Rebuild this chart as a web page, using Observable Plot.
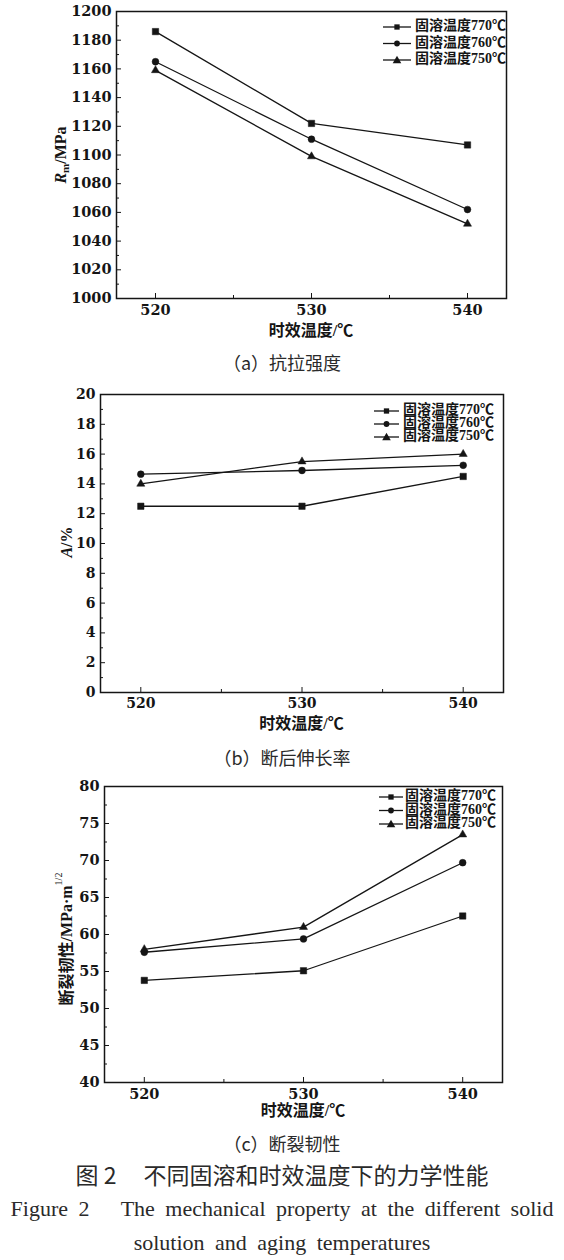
<!DOCTYPE html>
<html><head><meta charset="utf-8">
<script src="https://cdn.jsdelivr.net/npm/d3@7"></script>
<script src="https://cdn.jsdelivr.net/npm/@observablehq/plot@0.6"></script>
<style>
body{margin:0;background:#fff;}
#page{position:relative;width:564px;height:1260px;overflow:hidden;background:#fff;}
.panel{position:absolute;left:0;}
.cap{position:absolute;left:0;width:564px;text-align:center;white-space:nowrap;color:#2a2a2a;}
.cn{font-family:"Noto Sans CJK SC",sans-serif;font-size:18px;line-height:18px;}
.title{font-family:"Noto Sans CJK SC",sans-serif;font-size:23px;line-height:23px;}
.en{font-family:"Liberation Serif","Times New Roman",serif;font-size:22px;line-height:22px;word-spacing:5px;}
</style></head>
<body><div id="page"></div>
<script>
// ---- data ----
const agingTemps = [520, 530, 540];
const seriesKeys = ["770", "760", "750"];
const seriesLabels = ["固溶温度770℃", "固溶温度760℃", "固溶温度750℃"];
const seriesSymbols = ["square", "circle", "triangle"];

const rm770 = [1186, 1122, 1107];
const rm760 = [1165, 1111, 1062];
const rm750 = [1159, 1099, 1052];

const a770 = [12.5, 12.5, 14.5];
const a760 = [14.65, 14.9, 15.25];
const a750 = [14.0, 15.5, 16.0];

const k770 = [53.8, 55.1, 62.5];
const k760 = [57.6, 59.4, 69.7];
const k750 = [58.0, 61.0, 73.5];

const rmTicks = [1000, 1020, 1040, 1060, 1080, 1100, 1120, 1140, 1160, 1180, 1200];
const rmMinor = [1010, 1030, 1050, 1070, 1090, 1110, 1130, 1150, 1170, 1190];
const aTicks = [0, 2, 4, 6, 8, 10, 12, 14, 16, 18, 20];
const aMinor = [1, 3, 5, 7, 9, 11, 13, 15, 17, 19];
const kTicks = [40, 45, 50, 55, 60, 65, 70, 75, 80];
const kMinor = [42.5, 47.5, 52.5, 57.5, 62.5, 67.5, 72.5, 77.5];
const xTicks = [520, 530, 540];
const xMinor = [525, 535];

const xLabel = "时效温度/℃";
const captions = ["（a）抗拉强度", "（b）断后伸长率", "（c）断裂韧性"];

function rowsOf(arrs) {
  const out = [];
  arrs.forEach((arr, si) => arr.forEach((v, i) => out.push({t: agingTemps[i], v, s: seriesKeys[si]})));
  return out;
}

const page = document.getElementById("page");
const serif = '"Liberation Serif","Noto Sans CJK SC",serif';
const tickFamily = "DejaVu Serif";
const ink = "#151515";

function panel(cfg) {
  const rows = rowsOf(cfg.series);
  const rFor = {square: 3.6, circle: 3.4, triangle: 3.0};
  const fs = cfg.tickFont;
  const plot = Plot.plot({
    width: 564, height: cfg.height,
    marginTop: cfg.mt, marginBottom: cfg.mb, marginLeft: cfg.ml, marginRight: cfg.mr,
    x: {domain: [517.5, 542.5]},
    y: {domain: cfg.yDomain},
    style: {background: "transparent", overflow: "visible", color: ink},
    marks: [
      Plot.frame({stroke: ink, strokeWidth: 1.5}),
      Plot.axisY(cfg.yTicks, {tickSize: 0, tickPadding: 5, label: null, fontSize: fs, fontFamily: tickFamily, fontWeight: "bold", tickFormat: d => String(d)}),
      Plot.axisY(cfg.yTicks, {tickSize: -5, fill: "none", label: null}),
      Plot.axisY(cfg.yMinor, {tickSize: -3, fill: "none", label: null}),
      Plot.axisX(xTicks, {tickSize: 0, tickPadding: 6, label: null, fontSize: fs, fontFamily: tickFamily, fontWeight: "bold", tickFormat: d => String(d)}),
      Plot.axisX(xTicks, {tickSize: -5, fill: "none", label: null}),
      Plot.axisX(xMinor, {tickSize: -3, fill: "none", label: null}),
      Plot.line(rows, {x: "t", y: "v", z: "s", stroke: ink, strokeWidth: 1.3}),
      ...seriesKeys.map((k, i) => Plot.dot(rows.filter(d => d.s === k), {
        x: "t", y: "v", symbol: seriesSymbols[i], r: rFor[seriesSymbols[i]], fill: ink, stroke: ink, strokeWidth: 0.5
      }))
    ]
  });
  plot.classList.add("panel");
  plot.style.top = cfg.top + "px";
  page.appendChild(plot);

  const svg = d3.select(plot);
  // x axis title
  const fx = (cfg.ml + (564 - cfg.mr)) / 2;
  svg.append("text")
    .attr("x", fx).attr("y", cfg.xLabelY).attr("text-anchor", "middle").attr("dominant-baseline", "middle")
    .attr("font-family", serif).attr("font-size", 16).attr("font-weight", "bold").attr("fill", ink)
    .text(xLabel);
  // y axis title
  const yt = svg.append("text")
    .attr("transform", `translate(${cfg.yLabelX},${cfg.yLabelY}) rotate(-90)`)
    .attr("text-anchor", "middle").attr("dominant-baseline", "middle")
    .attr("font-family", serif).attr("font-size", 16).attr("font-weight", "bold").attr("fill", ink);
  cfg.yLabel(yt);
  // legend
  const L = cfg.legend;
  seriesLabels.forEach((lab, i) => {
    const y = L.y0 + i * L.dy;
    svg.append("line").attr("x1", L.x1).attr("x2", L.x2).attr("y1", y).attr("y2", y)
      .attr("stroke", ink).attr("stroke-width", 1.3);
    const sym = [d3.symbolSquare, d3.symbolCircle, d3.symbolTriangle][i];
    const size = [28, 26, 32][i];
    svg.append("path").attr("d", d3.symbol(sym, size)())
      .attr("transform", `translate(${(L.x1 + L.x2) / 2},${y + (i === 2 ? 0.8 : 0)})`)
      .attr("fill", ink);
    svg.append("text").attr("x", L.tx).attr("y", y).attr("dominant-baseline", "middle")
      .attr("text-anchor", "start")
      .attr("font-family", serif).attr("font-size", 14).attr("font-weight", "bold").attr("fill", ink)
      .text(lab);
  });
}

panel({
  top: 0, height: 345, mt: 11, mb: 47, ml: 116, mr: 58,
  yDomain: [1000, 1200], yTicks: rmTicks, yMinor: rmMinor, tickFont: 14.5,
  series: [rm770, rm760, rm750],
  xLabelY: 332, yLabelX: 62, yLabelY: 155,
  yLabel: t => {
    t.append("tspan").attr("font-style", "italic").text("R");
    t.append("tspan").attr("font-size", 11).attr("dy", 4).text("m");
    t.append("tspan").attr("dy", -4).text("/MPa");
  },
  legend: {x1: 383, x2: 411, tx: 415, y0: 27, dy: 16.5}
});

panel({
  top: 380, height: 352, mt: 14, mb: 40, ml: 100, mr: 61,
  yDomain: [0, 20], yTicks: aTicks, yMinor: aMinor, tickFont: 14,
  series: [a770, a760, a750],
  xLabelY: 345, yLabelX: 68, yLabelY: 162,
  yLabel: t => {
    t.append("tspan").attr("font-style", "italic").text("A");
    t.append("tspan").text("/%");
  },
  legend: {x1: 374, x2: 399, tx: 403, y0: 31, dy: 13}
});

panel({
  top: 770, height: 355, mt: 16, mb: 43, ml: 104, mr: 62,
  yDomain: [40, 80], yTicks: kTicks, yMinor: kMinor, tickFont: 14.5,
  series: [k770, k760, k750],
  xLabelY: 342, yLabelX: 68, yLabelY: 169,
  yLabel: t => {
    t.append("tspan").text("断裂韧性/MPa·m");
    t.append("tspan").attr("font-size", 10).attr("font-weight", "normal").attr("dy", -8).text("1/2");
  },
  legend: {x1: 379, x2: 403, tx: 405, y0: 27, dy: 13.5}
});

function cap(cls, text, cy, size) {
  const d = document.createElement("div");
  d.className = "cap " + cls;
  d.style.top = (cy - size / 2) + "px";
  d.textContent = text;
  page.appendChild(d);
  return d;
}
cap("cn", captions[0], 362, 18);
cap("cn", captions[1], 757, 18);
cap("cn", captions[2], 1143, 18);
const t = cap("title", "", 1174, 23);
t.innerHTML = '图 2<span style="display:inline-block;width:27px"></span>不同固溶和时效温度下的力学性能';
cap("en", "Figure 2   The mechanical property at the different solid", 1209, 22).style.whiteSpace = "pre";
cap("en", "solution and aging temperatures", 1243, 22);
</script>
</body></html>
